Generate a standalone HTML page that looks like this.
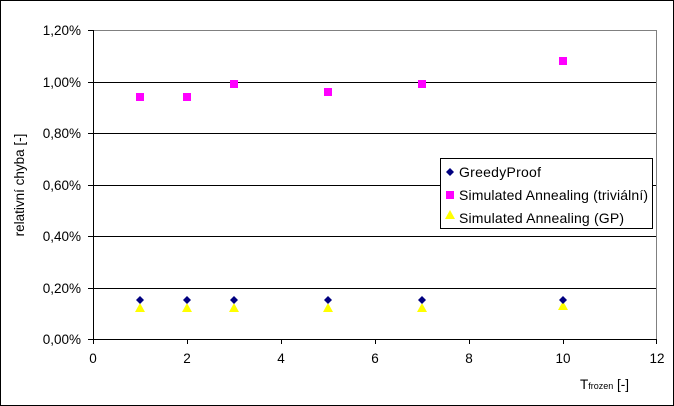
<!DOCTYPE html><html><head><style>body{margin:0}svg{display:block;font-family:"Liberation Sans",sans-serif}</style></head><body>
<svg width="674" height="406" xmlns="http://www.w3.org/2000/svg">
<rect x="0.5" y="0.5" width="673" height="405" fill="#fff" stroke="#000"/>
<g stroke="#000" stroke-width="1">
<line x1="93" y1="30.5" x2="657" y2="30.5" stroke="#808080"/>
<line x1="93" y1="82.5" x2="657" y2="82.5"/>
<line x1="93" y1="133.5" x2="657" y2="133.5"/>
<line x1="93" y1="185.5" x2="657" y2="185.5"/>
<line x1="93" y1="236.5" x2="657" y2="236.5"/>
<line x1="93" y1="288.5" x2="657" y2="288.5"/>
<line x1="656.5" y1="30" x2="656.5" y2="339" stroke="#808080"/>
<line x1="93.5" y1="30" x2="93.5" y2="344"/>
<line x1="88" y1="339.5" x2="657" y2="339.5"/>
<line x1="88" y1="30.5" x2="93" y2="30.5"/><line x1="88" y1="82.5" x2="93" y2="82.5"/><line x1="88" y1="133.5" x2="93" y2="133.5"/><line x1="88" y1="185.5" x2="93" y2="185.5"/><line x1="88" y1="236.5" x2="93" y2="236.5"/><line x1="88" y1="288.5" x2="93" y2="288.5"/>
<line x1="187.5" y1="339" x2="187.5" y2="344"/><line x1="281.5" y1="339" x2="281.5" y2="344"/><line x1="375.5" y1="339" x2="375.5" y2="344"/><line x1="469.5" y1="339" x2="469.5" y2="344"/><line x1="563.5" y1="339" x2="563.5" y2="344"/><line x1="656.5" y1="339" x2="656.5" y2="344"/>
</g>
<g font-size="13.5" text-anchor="end" fill="#000">
<text x="81" y="35">1,20%</text><text x="81" y="87">1,00%</text><text x="81" y="138">0,80%</text><text x="81" y="190">0,60%</text><text x="81" y="241">0,40%</text><text x="81" y="293">0,20%</text><text x="81" y="344">0,00%</text>
</g>
<g font-size="13.5" text-anchor="middle">
<text x="93" y="363">0</text><text x="187" y="363">2</text><text x="281" y="363">4</text><text x="375" y="363">6</text><text x="469" y="363">8</text><text x="563" y="363">10</text><text x="657" y="363">12</text>
</g>
<text transform="translate(24,185) rotate(-90)" font-size="13.5" text-anchor="middle">relativní chyba [-]</text>
<text x="580" y="389" font-size="13.5">T<tspan font-size="9">frozen</tspan> [-]</text>
<g fill="#ff00ff">
<rect x="136" y="93" width="8" height="8"/><rect x="183" y="93" width="8" height="8"/><rect x="230" y="80" width="8" height="8"/><rect x="324" y="88" width="8" height="8"/><rect x="418" y="80" width="8" height="8"/><rect x="559" y="57" width="8" height="8"/>
</g>
<g fill="#ffff00">
<polygon points="140,303 135,312 145,312"/><polygon points="187,303 182,312 192,312"/><polygon points="234,303 229,312 239,312"/><polygon points="328,303 323,312 333,312"/><polygon points="422,303 417,312 427,312"/><polygon points="563,301 558,310 568,310"/>
</g>
<g fill="#000080">
<polygon points="140,296 144,300 140,304 136,300"/><polygon points="187,296 191,300 187,304 183,300"/><polygon points="234,296 238,300 234,304 230,300"/><polygon points="328,296 332,300 328,304 324,300"/><polygon points="422,296 426,300 422,304 418,300"/><polygon points="563,296 567,300 563,304 559,300"/>
</g>
<rect x="440.5" y="158.5" width="212" height="70" fill="#fff" stroke="#000"/>
<polygon points="450,168 454,172 450,176 446,172" fill="#000080"/>
<rect x="446" y="191" width="8" height="8" fill="#ff00ff"/>
<polygon points="450,210 445,219 455,219" fill="#ffff00"/>
<g font-size="14"><text x="459" y="177" textLength="82">GreedyProof</text><text x="459" y="200" textLength="189">Simulated Annealing (triviální)</text><text x="459" y="223" textLength="165">Simulated Annealing (GP)</text></g>
</svg></body></html>
